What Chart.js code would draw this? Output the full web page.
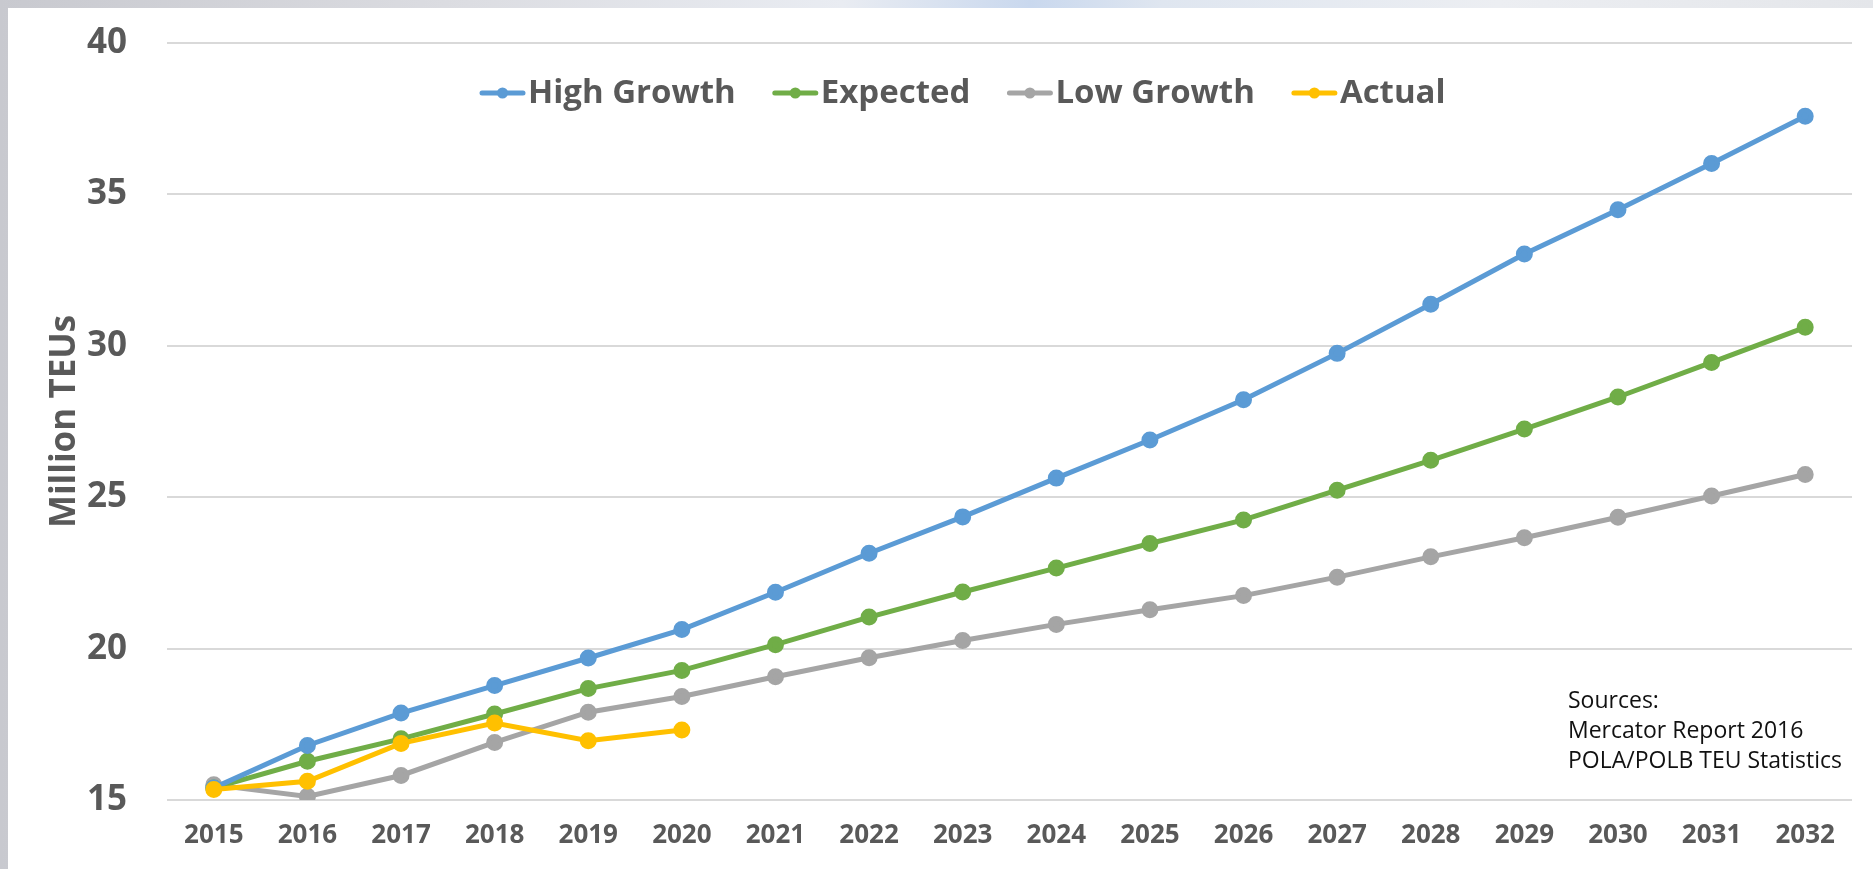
<!DOCTYPE html>
<html>
<head>
<meta charset="utf-8">
<script src="https://cdn.jsdelivr.net/npm/chart.js@4.4.0/dist/chart.umd.min.js"></script>
<style>
  html, body { margin: 0; padding: 0; }
  body {
    width: 1873px; height: 869px; overflow: hidden; position: relative;
    background: linear-gradient(to right, #c8c9cf 0%, #dcdde2 25%, #e9ecf2 45%, #c9d8ee 55%, #dfe6f0 62%, #eceef2 80%, #e4e6ea 100%);
  }
  #panel {
    position: absolute; left: 8px; top: 8px; width: 1865px; height: 861px;
    background: #fff;
  }
  #chart { display: block; }
  #sources {
    position: absolute; left: 1568px; top: 684px;
    font-family: "Open Sans", sans-serif; font-size: 23px; line-height: 30px; color: #111;
  }
</style>
</head>
<body>
<div id="panel"><canvas id="chart" width="1865" height="861"></canvas></div>
<div id="sources">Sources:<br>Mercator Report 2016<br>POLA/POLB TEU Statistics</div>
<script>
const years = ["2015", "2016", "2017", "2018", "2019", "2020", "2021", "2022", "2023",
  "2024", "2025", "2026", "2027", "2028", "2029", "2030", "2031", "2032"]
const highGrowth = [15.4, 16.8, 17.87, 18.78, 19.69, 20.63, 21.86, 23.15, 24.35,
  25.63, 26.89, 28.22, 29.75, 31.37, 33.03, 34.49, 36.02, 37.58]
const expected = [15.4, 16.28, 17.02, 17.84, 18.68, 19.28, 20.13, 21.04, 21.87,
  22.66, 23.47, 24.25, 25.23, 26.22, 27.25, 28.31, 29.45, 30.61]
const lowGrowth = [15.5, 15.12, 15.81, 16.9, 17.9, 18.42, 19.07, 19.7, 20.27,
  20.8, 21.28, 21.75, 22.36, 23.03, 23.66, 24.34, 25.04, 25.75]
const actual = [15.35, 15.62, 16.87, 17.54, 16.96, 17.31]
const yTicks = [15, 20, 25, 30, 35, 40]

const textColor = "#595959"
const fontFamily = "'Open Sans', 'Noto Sans', sans-serif"

// legend with a line-and-dot marker, drawn over the top of the plot area
const lineLegend = {
  id: "lineLegend",
  afterDraw(chart) {
    const ctx = chart.ctx
    const area = chart.chartArea
    let x = area.left + 313
    const y = area.top + 50
    ctx.save()
    ctx.font = "bold 33px " + fontFamily
    ctx.textBaseline = "middle"
    chart.data.datasets.forEach((ds) => {
      ctx.strokeStyle = ds.borderColor
      ctx.lineWidth = 5
      ctx.lineCap = "round"
      ctx.beginPath()
      ctx.moveTo(x + 2, y)
      ctx.lineTo(x + 43, y)
      ctx.stroke()
      ctx.fillStyle = ds.borderColor
      ctx.beginPath()
      ctx.arc(x + 22.5, y, 5.5, 0, Math.PI * 2)
      ctx.fill()
      ctx.fillStyle = textColor
      ctx.fillText(ds.label, x + 48, y + 1)
      x += 48 + ctx.measureText(ds.label).width + 37
    })
    ctx.restore()
  },
}

function series(label, data, color, order) {
  return {
    label: label,
    data: data,
    borderColor: color,
    backgroundColor: color,
    pointBackgroundColor: color,
    pointBorderColor: color,
    borderWidth: 5,
    pointRadius: 6,
    pointHoverRadius: 6,
    tension: 0,
    order: order,
  }
}

new Chart(document.getElementById("chart"), {
  type: "line",
  data: {
    labels: years,
    datasets: [
      series("High Growth", highGrowth, "#5b9bd5", 1),
      series("Expected", expected, "#70ad47", 2),
      series("Low Growth", lowGrowth, "#a5a5a5", 3),
      series("Actual", actual, "#ffc000", 0),
    ],
  },
  options: {
    responsive: false,
    animation: false,
    devicePixelRatio: 1,
    layout: { padding: { top: 35, right: 21, bottom: 0, left: 0 } },
    scales: {
      x: {
        offset: true,
        grid: { display: false, drawTicks: false },
        border: { display: false },
        ticks: {
          color: textColor,
          font: { family: fontFamily, size: 26, weight: "bold" },
          padding: 20,
          maxRotation: 0,
          autoSkip: false,
        },
        afterFit: (scale) => { scale.height = 69 },
      },
      y: {
        min: 15,
        max: 40,
        afterBuildTicks: (scale) => { scale.ticks = yTicks.map((v) => ({ value: v })) },
        grid: { color: "#d9d9d9", lineWidth: 2, drawTicks: false },
        border: { display: false },
        ticks: {
          color: textColor,
          font: { family: fontFamily, size: 35, weight: "bold" },
          padding: 40,
        },
        title: {
          display: true,
          text: "Million TEUs",
          color: textColor,
          font: { family: fontFamily, size: 35, weight: "bold" },
          padding: { top: 36, bottom: 0 },
        },
        afterFit: (scale) => {
          scale.width = 159
          // the label padding should only push the labels sideways
          scale.paddingTop = 20
          scale.paddingBottom = 20
        },
      },
    },
    plugins: {
      legend: { display: false },
      tooltip: { enabled: false },
    },
  },
  plugins: [lineLegend],
})
</script>
</body>
</html>
